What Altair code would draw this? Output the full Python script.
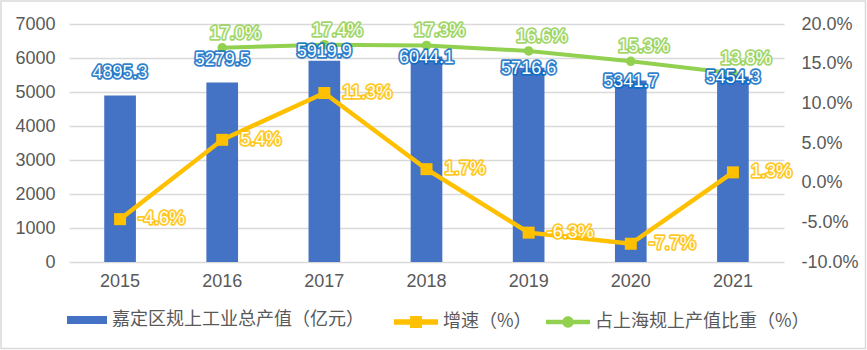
import json
import altair as alt
import pandas as pd

years = [2015, 2016, 2017, 2018, 2019, 2020, 2021]
output_value = [4895.3, 5279.5, 5919.9, 6044.1, 5716.6, 5341.7, 5454.3]
growth = [-4.6, 5.4, 11.3, 1.7, -6.3, -7.7, 1.3]
share = [None, 17.0, 17.4, 17.3, 16.6, 15.3, 13.8]
series_names = ["嘉定区规上工业总产值（亿元）", "增速（%）", "占上海规上产值比重（%）"]
left_ticks = [0, 1000, 2000, 3000, 4000, 5000, 6000, 7000]
right_ticks = [-10, -5, 0, 5, 10, 15, 20]

df = pd.DataFrame({"year": years, "value": output_value, "growth": growth, "share": share})

BLUE = "#4472C4"
BLUE_GLOW = "#0A6CC4"
YELLOW = "#FFC000"
GREEN = "#92D050"
GRAY_TXT = "#595959"
GRID = "#D9D9D9"
NUM_FONT = "Liberation Sans"
CJK_FONT = "Noto Sans CJK SC"

RECT_PATH = "M-1,-0.2H1V0.2H-1Z"
SQ_PATH = "M-1,-0.12H-0.27V-0.27H0.27V-0.12H1V0.12H0.27V0.27H-0.27V0.12H-1Z"
CIRC_PATH = ("M-1,-0.1H1V0.1H-1Z "
             "M0.26,0A0.26,0.26 0 1,1 -0.26,0A0.26,0.26 0 1,1 0.26,0Z")


def pct_expr(field):
    return (f"({field} < 0 ? '-' : '') + format(abs({field}), '.1f') + '%'")


x_enc = alt.X(
    "year:O",
    scale=alt.Scale(paddingInner=0.69, paddingOuter=0.345),
    axis=alt.Axis(title=None, labelAngle=0, domain=False, ticks=False,
                  labelFont=NUM_FONT, labelFontSize=18, labelColor=GRAY_TXT,
                  labelPadding=10),
)

left_scale = alt.Scale(domain=[0, 7000], nice=False, zero=False)
right_scale = alt.Scale(domain=[-10, 20], nice=False, zero=False)


def legend(x, y, sym, size, **kw):
    return alt.Legend(
        title=None, orient="none", legendX=x, legendY=y, padding=0,
        symbolType=sym, symbolSize=size, symbolStrokeWidth=0,
        labelFont=CJK_FONT, labelFontSize=18, labelColor=GRAY_TXT,
        labelOffset=5, labelLimit=500, **kw)


base = alt.Chart(df)

border = alt.Chart(alt.Data(values=[{}])).mark_rect(
    filled=False, stroke=GRID, strokeWidth=1.5
).encode(x=alt.value(-68), x2=alt.value(796.5), y=alt.value(-23), y2=alt.value(324.5))

bars = base.transform_calculate(s=json.dumps(series_names[0])).mark_bar(color=BLUE).encode(
    x=x_enc,
    y=alt.Y("value:Q", scale=left_scale,
            axis=alt.Axis(title=None, values=left_ticks, format="d", domain=False, ticks=False,
                          grid=True, gridColor=GRID, gridWidth=1.3,
                          labelFont=NUM_FONT, labelFontSize=18, labelColor=GRAY_TXT,
                          labelPadding=14)),
    color=alt.Color("s:N", scale=alt.Scale(domain=[series_names[0]], range=[BLUE]),
                    legend=legend(-2, 276, RECT_PATH, 1600)),
)

bar_lab_base = base.transform_calculate(
    label_y="datum.value + (datum.year <= 2016 ? 650 : (datum.year == 2017 ? 265 : -40))"
).encode(
    x=x_enc,
    y=alt.Y("label_y:Q", scale=left_scale, axis=None),
    text=alt.Text("value:Q", format=".1f"),
)
bar_lab_glow = bar_lab_base.mark_text(font=NUM_FONT, fontSize=18, baseline="middle",
                                      fill=BLUE_GLOW, stroke=BLUE_GLOW, strokeWidth=3.5,
                                      strokeJoin="round", strokeOpacity=0.85)
bar_lab = bar_lab_base.mark_text(font=NUM_FONT, fontSize=18, baseline="middle", fill="white")

yline = base.transform_calculate(s=json.dumps(series_names[1])).mark_line(
    strokeWidth=4.5,
    point=alt.OverlayMarkDef(shape="square", size=144, filled=True),
).encode(
    x=x_enc,
    y=alt.Y("growth:Q", scale=right_scale,
            axis=alt.Axis(orient="right", title=None, values=right_ticks, domain=False,
                          ticks=False, grid=False,
                          labelExpr=pct_expr("datum.value"),
                          labelFont=NUM_FONT, labelFontSize=18, labelColor=GRAY_TXT,
                          labelPadding=17)),
    color=alt.Color("s:N", scale=alt.Scale(domain=[series_names[1]], range=[YELLOW]),
                    legend=legend(325, 276, SQ_PATH, 1936, symbolFillColor=YELLOW)),
)

y_lab_base = base.transform_calculate(
    lab=pct_expr("datum.growth")
).encode(
    x=x_enc,
    y=alt.Y("growth:Q", scale=right_scale, axis=None),
    text="lab:N",
)
y_lab_glow = y_lab_base.mark_text(font=NUM_FONT, fontSize=18, align="left", baseline="middle",
                                  dx=18, fill=YELLOW, stroke=YELLOW, strokeWidth=3.5,
                                  strokeJoin="round", strokeOpacity=0.85)
y_lab = y_lab_base.mark_text(font=NUM_FONT, fontSize=18, align="left", baseline="middle",
                             dx=18, fill="white")

gline = base.transform_filter("isValid(datum.share)").transform_calculate(
    s=json.dumps(series_names[2])
).mark_line(
    strokeWidth=4,
    point=alt.OverlayMarkDef(shape="circle", size=90, filled=True),
).encode(
    x=x_enc,
    y=alt.Y("share:Q", scale=right_scale, axis=None),
    color=alt.Color("s:N", scale=alt.Scale(domain=[series_names[2]], range=[GREEN]),
                    legend=legend(477, 276, CIRC_PATH, 1936, symbolFillColor=GREEN)),
)

g_lab_base = base.transform_filter("isValid(datum.share)").transform_calculate(
    lab=pct_expr("datum.share")
).encode(
    x=x_enc,
    y=alt.Y("share:Q", scale=right_scale, axis=None),
    text="lab:N",
)
g_lab_glow = g_lab_base.mark_text(font=NUM_FONT, fontSize=18, align="center", baseline="middle",
                                  dx=13, dy=-14, fill=GREEN, stroke=GREEN, strokeWidth=3.5,
                                  strokeJoin="round", strokeOpacity=0.85)
g_lab = g_lab_base.mark_text(font=NUM_FONT, fontSize=18, align="center", baseline="middle",
                             dx=13, dy=-14, fill="white")

chart = alt.layer(
    border, bars, yline, gline, bar_lab_glow, bar_lab, y_lab_glow, y_lab, g_lab_glow, g_lab
).resolve_scale(
    y="independent", color="independent"
).properties(
    width=715, height=238,
    padding={"left": 69, "top": 24, "right": 83, "bottom": 88},
    autosize=alt.AutoSizeParams(type="none"),
    background="white",
).configure_view(strokeWidth=0)

chart.save("out.html", embed_options={"renderer": "svg", "actions": False})
